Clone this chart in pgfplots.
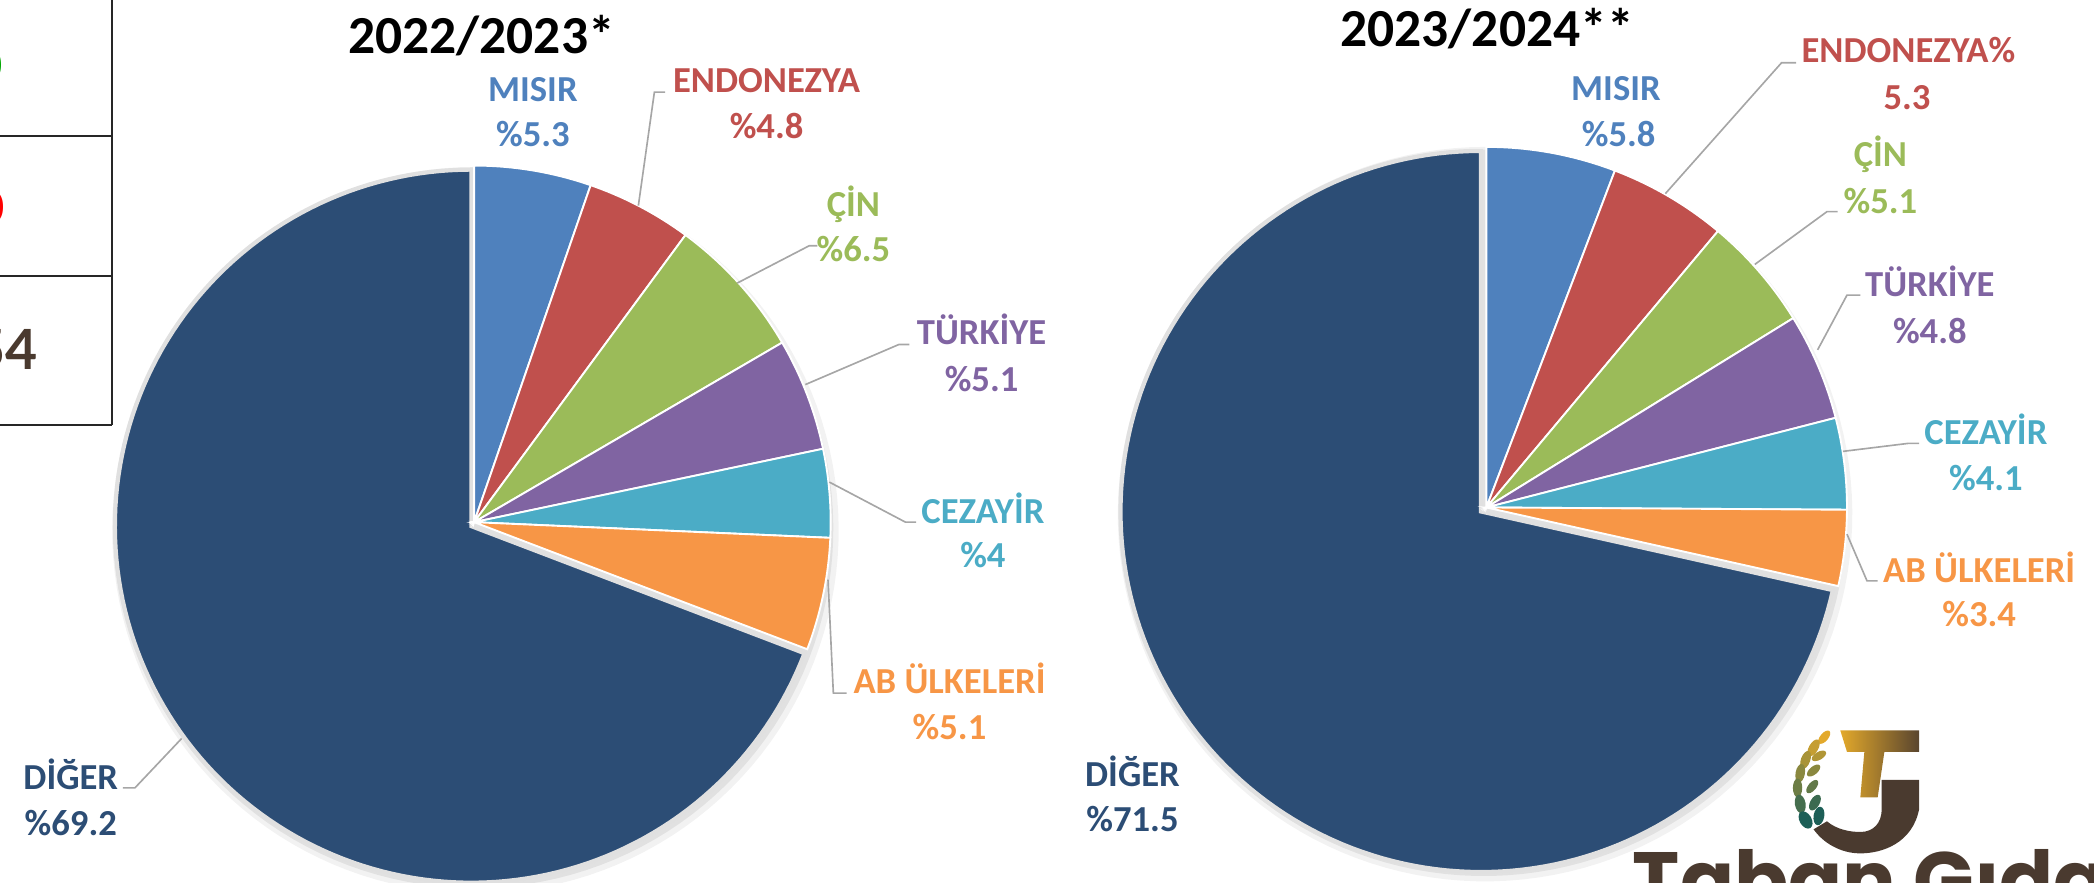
\documentclass[border=0pt]{standalone}
\usepackage{fontspec}
\setmainfont{Carlito}
\newfontfamily\logofont{Poppins}
\newfontfamily\tabfont{Lato}
\usepackage{pgfplots}
\pgfplotsset{compat=1.18}
\definecolor{cMisir}{HTML}{4F81BD}
\definecolor{cEnd}{HTML}{C0504D}
\definecolor{cCin}{HTML}{9BBB59}
\definecolor{cTur}{HTML}{8064A2}
\definecolor{cCez}{HTML}{4BACC6}
\definecolor{cAb}{HTML}{F79646}
\definecolor{cDiger}{HTML}{2C4D75}
\definecolor{cLead}{HTML}{A6A6A6}
\definecolor{cBrown}{HTML}{4A3A2F}
\definecolor{cGold}{HTML}{E3A92B}
\definecolor{cTeal}{HTML}{1D5F57}
% slice: cx, cy, r, start %, end %, colour, extra options
\newcommand{\slice}[7]{%
  \addplot[fill=#6, #7, domain={3.6*(#4)}:{3.6*(#5)}, samples=150, variable=\t]
    ({#1+#3*sin(\t)}, {#2+#3*cos(\t)}) -- (axis cs:#1,#2) -- cycle;}
\newcommand{\shadow}[3]{%
  \addplot[draw=none, fill=black, opacity=0.05, domain=0:360, samples=150, variable=\t]
    ({#1+2+(#3+5)*sin(\t)}, {#2-3+(#3+5)*cos(\t)});
  \addplot[draw=none, fill=black, opacity=0.07, domain=0:360, samples=150, variable=\t]
    ({#1+1+(#3+2)*sin(\t)}, {#2-2+(#3+2)*cos(\t)});}
\newcommand{\lab}{\fontsize{7.8pt}{9.4pt}\selectfont\bfseries}
\newcommand{\ttl}{\fontsize{11.4pt}{13pt}\selectfont\bfseries}
\newcommand{\plabel}[5]{% x, Y first baseline, Y second baseline, colour, name/value
  \node[anchor=base, text=#4, font=\lab, inner sep=0pt] at (axis cs:#1,#2) {\csname lbA\endcsname};}
\begin{document}
\begin{tikzpicture}
\begin{axis}[x=0.1mm, y=0.1mm, xmin=0, xmax=1568, ymin=0, ymax=661,
  hide axis, clip=false, anchor=origin, at={(0,0)}]

% ---------- left table fragment ----------
\draw[black!85, line width=0.45pt] (axis cs:84,661) -- (axis cs:84,343);
\draw[black!85, line width=0.45pt] (axis cs:0,559) -- (axis cs:84,559);
\draw[black!85, line width=0.45pt] (axis cs:0,454) -- (axis cs:84,454);
\draw[black!85, line width=0.45pt] (axis cs:0,343) -- (axis cs:84,343);
\node[anchor=base east, inner sep=0pt, text=green!65!black, font=\tabfont\bfseries\fontsize{9.6pt}{10pt}\selectfont] at (axis cs:3,600) {0};
\node[anchor=base east, inner sep=0pt, text=red, font=\tabfont\bfseries\fontsize{9.6pt}{10pt}\selectfont] at (axis cs:4.5,494) {0};
\node[anchor=base east, inner sep=0pt, text=cBrown, font=\tabfont\bfseries\fontsize{11.8pt}{12pt}\selectfont] at (axis cs:29,384) {54};

% ---------- pie 1 : 2022/2023 ----------
\shadow{354}{267}{267}
\slice{353}{267}{267}{30.8}{100}{cDiger}{draw=black!12, line width=0.9pt}
\slice{355}{270}{267}{0}{5.3}{cMisir}{draw=white, line width=0.4pt}
\slice{355}{270}{267}{5.3}{5.3+4.8}{cEnd}{draw=white, line width=0.4pt}
\slice{355}{270}{267}{5.3+4.8}{10.1+6.5}{cCin}{draw=white, line width=0.4pt}
\slice{355}{270}{267}{16.6}{16.6+5.1}{cTur}{draw=white, line width=0.4pt}
\slice{355}{270}{267}{21.7}{21.7+4}{cCez}{draw=white, line width=0.4pt}
\slice{355}{270}{267}{25.7}{25.7+5.1}{cAb}{draw=white, line width=0.4pt}

% ---------- pie 2 : 2023/2024 ----------
\shadow{1110}{279}{270}
\slice{1109}{278}{270}{28.5}{100}{cDiger}{draw=black!12, line width=0.9pt}
\slice{1113}{281}{270}{0}{5.8}{cMisir}{draw=white, line width=0.4pt}
\slice{1113}{281}{270}{5.8}{5.8+5.3}{cEnd}{draw=white, line width=0.4pt}
\slice{1113}{281}{270}{11.1}{11.1+5.1}{cCin}{draw=white, line width=0.4pt}
\slice{1113}{281}{270}{16.2}{16.2+4.8}{cTur}{draw=white, line width=0.4pt}
\slice{1113}{281}{270}{21.0}{21.0+4.1}{cCez}{draw=white, line width=0.4pt}
\slice{1113}{281}{270}{25.1}{25.1+3.4}{cAb}{draw=white, line width=0.4pt}

% ---------- titles ----------
\node[anchor=base west, inner sep=0pt, font=\ttl] at (axis cs:260,621) {2022/2023*};
\node[anchor=base west, inner sep=0pt, font=\ttl] at (axis cs:1003,626) {2023/2024**};

% ---------- leader lines pie 1 ----------
\draw[cLead, line width=0.35pt] (axis cs:478,507) -- (axis cs:490,592) -- (axis cs:498,592);
\draw[cLead, line width=0.35pt] (axis cs:552,449) -- (axis cs:606,477) -- (axis cs:612,477);
\draw[cLead, line width=0.35pt] (axis cs:603,373) -- (axis cs:673,403) -- (axis cs:681,403);
\draw[cLead, line width=0.35pt] (axis cs:621,300) -- (axis cs:678,270) -- (axis cs:686,270);
\draw[cLead, line width=0.35pt] (axis cs:620,227) -- (axis cs:624,142) -- (axis cs:634,142);
\draw[cLead, line width=0.35pt] (axis cs:136,108) -- (axis cs:101,71) -- (axis cs:92,71);

% ---------- leader lines pie 2 ----------
\draw[cLead, line width=0.35pt] (axis cs:1247,516) -- (axis cs:1334,614) -- (axis cs:1345,614);
\draw[cLead, line width=0.35pt] (axis cs:1314,463) -- (axis cs:1368,502.5) -- (axis cs:1376,502.5);
\draw[cLead, line width=0.35pt] (axis cs:1361,399) -- (axis cs:1383,440) -- (axis cs:1393,440);
\draw[cLead, line width=0.35pt] (axis cs:1380,323) -- (axis cs:1429,329) -- (axis cs:1437,329);
\draw[cLead, line width=0.35pt] (axis cs:1383,261) -- (axis cs:1398,226) -- (axis cs:1406,226);

% ---------- labels pie 1 ----------
\node[anchor=base, inner sep=0pt, text=cMisir, font=\lab] at (axis cs:399,585) {MISIR};
\node[anchor=base, inner sep=0pt, text=cMisir, font=\lab] at (axis cs:399,551) {\%5.3};
\node[anchor=base, inner sep=0pt, text=cEnd, font=\lab] at (axis cs:574,592) {ENDONEZYA};
\node[anchor=base, inner sep=0pt, text=cEnd, font=\lab] at (axis cs:574,557) {\%4.8};
\node[anchor=base, inner sep=0pt, text=cCin, font=\lab] at (axis cs:639,499) {ÇİN};
\node[anchor=base, inner sep=0pt, text=cCin, font=\lab] at (axis cs:639,465) {\%6.5};
\node[anchor=base, inner sep=0pt, text=cTur, font=\lab] at (axis cs:735,403) {TÜRKİYE};
\node[anchor=base, inner sep=0pt, text=cTur, font=\lab] at (axis cs:735,368) {\%5.1};
\node[anchor=base, inner sep=0pt, text=cCez, font=\lab] at (axis cs:736,269) {CEZAYİR};
\node[anchor=base, inner sep=0pt, text=cCez, font=\lab] at (axis cs:736,236) {\%4};
\node[anchor=base, inner sep=0pt, text=cAb, font=\lab] at (axis cs:711,142) {AB ÜLKELERİ};
\node[anchor=base, inner sep=0pt, text=cAb, font=\lab] at (axis cs:711,107) {\%5.1};
\node[anchor=base, inner sep=0pt, text=cDiger, font=\lab] at (axis cs:53,70) {DİĞER};
\node[anchor=base, inner sep=0pt, text=cDiger, font=\lab] at (axis cs:53,35) {\%69.2};

% ---------- labels pie 2 ----------
\node[anchor=base, inner sep=0pt, text=cMisir, font=\lab] at (axis cs:1210,585.5) {MISIR};
\node[anchor=base, inner sep=0pt, text=cMisir, font=\lab] at (axis cs:1212,551) {\%5.8};
\node[anchor=base, inner sep=0pt, text=cEnd, font=\lab] at (axis cs:1429,614) {ENDONEZYA\%};
\node[anchor=base, inner sep=0pt, text=cEnd, font=\lab] at (axis cs:1428,579) {5.3};
\node[anchor=base, inner sep=0pt, text=cCin, font=\lab] at (axis cs:1408,536) {ÇİN};
\node[anchor=base, inner sep=0pt, text=cCin, font=\lab] at (axis cs:1408,501) {\%5.1};
\node[anchor=base, inner sep=0pt, text=cTur, font=\lab] at (axis cs:1445,439) {TÜRKİYE};
\node[anchor=base, inner sep=0pt, text=cTur, font=\lab] at (axis cs:1445,404) {\%4.8};
\node[anchor=base, inner sep=0pt, text=cCez, font=\lab] at (axis cs:1487,328) {CEZAYİR};
\node[anchor=base, inner sep=0pt, text=cCez, font=\lab] at (axis cs:1487,294) {\%4.1};
\node[anchor=base, inner sep=0pt, text=cAb, font=\lab] at (axis cs:1482,225) {AB ÜLKELERİ};
\node[anchor=base, inner sep=0pt, text=cAb, font=\lab] at (axis cs:1482,192) {\%3.4};
\node[anchor=base, inner sep=0pt, text=cDiger, font=\lab] at (axis cs:848,72) {DİĞER};
\node[anchor=base, inner sep=0pt, text=cDiger, font=\lab] at (axis cs:848,38) {\%71.5};

% ---------- logo ----------
\shade[left color=cGold, right color=cBrown!90!cGold]
  (axis cs:1378,114) -- (axis cs:1437,114) -- (axis cs:1437,98) -- (axis cs:1411,98)
  -- (axis cs:1406,64) -- (axis cs:1393,64) -- (axis cs:1396,98) -- (axis cs:1383,98) -- cycle;
\fill[cBrown] (axis cs:1409,77) -- (axis cs:1437,77) -- (axis cs:1437,55)
  .. controls (axis cs:1432,30) and (axis cs:1410,22) .. (axis cs:1393,22)
  .. controls (axis cs:1378,22) and (axis cs:1365,30) .. (axis cs:1358,40)
  -- (axis cs:1368,46)
  .. controls (axis cs:1375,40) and (axis cs:1385,38) .. (axis cs:1393,38)
  .. controls (axis cs:1403,38) and (axis cs:1409,45) .. (axis cs:1409,55) -- cycle;
\fill[cGold, rotate around={-40:(axis cs:1366,109)}] (axis cs:1366,109) ellipse[x radius=3, y radius=6];
\fill[cGold!85!cTeal, rotate around={-30:(axis cs:1358,101)}] (axis cs:1358,101) ellipse[x radius=3.5, y radius=7];
\fill[cGold!70!cTeal, rotate around={-20:(axis cs:1352,92)}] (axis cs:1352,92) ellipse[x radius=3.5, y radius=7];
\fill[cGold!75!cTeal, rotate around={-60:(axis cs:1362,95)}] (axis cs:1362,95) ellipse[x radius=3, y radius=6];
\fill[cGold!55!cTeal, rotate around={-10:(axis cs:1348,82)}] (axis cs:1348,82) ellipse[x radius=3.5, y radius=7];
\fill[cGold!55!cTeal, rotate around={-50:(axis cs:1358,84)}] (axis cs:1358,84) ellipse[x radius=3, y radius=6];
\fill[cGold!40!cTeal, rotate around={0:(axis cs:1346,71)}] (axis cs:1346,71) ellipse[x radius=3.5, y radius=7];
\fill[cGold!35!cTeal, rotate around={-40:(axis cs:1357,72)}] (axis cs:1357,72) ellipse[x radius=3, y radius=6];
\fill[cGold!20!cTeal, rotate around={10:(axis cs:1348,59)}] (axis cs:1348,59) ellipse[x radius=4, y radius=7];
\fill[cGold!15!cTeal, rotate around={-30:(axis cs:1359,60)}] (axis cs:1359,60) ellipse[x radius=3.5, y radius=6.5];
\fill[cTeal, rotate around={30:(axis cs:1352,47)}] (axis cs:1352,47) ellipse[x radius=4.5, y radius=7];
\fill[cTeal, rotate around={-10:(axis cs:1362,50)}] (axis cs:1362,50) ellipse[x radius=4, y radius=7];
\node[anchor=base west, inner sep=0pt, text=cBrown, font=\logofont\bfseries\fontsize{17pt}{18pt}\selectfont] at (axis cs:1222,-19) {Taban Gıda};
\end{axis}
\pgfresetboundingbox
\path[use as bounding box] (0,0) rectangle (156.8mm,66.1mm);
\end{tikzpicture}
\end{document}
